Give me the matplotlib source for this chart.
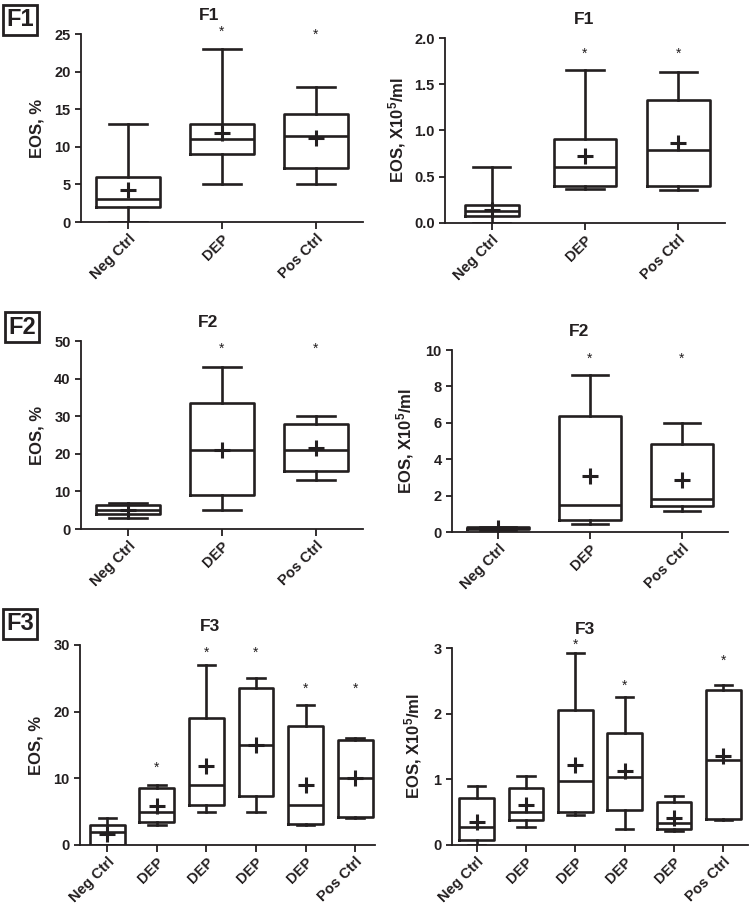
import matplotlib
matplotlib.use('Agg')
import matplotlib.pyplot as plt
import matplotlib.transforms as mtransforms

plt.rcParams['font.family'] = ['Liberation Sans', 'DejaVu Sans']
plt.rcParams['font.weight'] = 'bold'
plt.rcParams['mathtext.fontset'] = 'custom'
plt.rcParams['mathtext.rm'] = 'Liberation Sans:bold'
plt.rcParams['mathtext.bf'] = 'Liberation Sans:bold'
plt.rcParams['mathtext.it'] = 'Liberation Sans:bold'
plt.rcParams['mathtext.default'] = 'bf'

INK = '#231f20'

# ---------------- data ----------------
cats3 = ['Neg Ctrl', 'DEP', 'Pos Ctrl']
cats6 = ['Neg Ctrl', 'DEP', 'DEP', 'DEP', 'DEP', 'Pos Ctrl']

# F1, EOS %
f1p_low = [0, 5, 5]
f1p_q1 = [2, 9, 7.2]
f1p_med = [3, 11, 11.5]
f1p_q3 = [6, 13, 14.3]
f1p_high = [13, 23, 18]
f1p_mean = [4.3, 11.8, 11.2]
f1p_star = [None, 25.9, 25.5]

# F1, EOS x10^5/ml
f1c_low = [0.0, 0.37, 0.36]
f1c_q1 = [0.08, 0.40, 0.40]
f1c_med = [0.13, 0.60, 0.79]
f1c_q3 = [0.19, 0.91, 1.33]
f1c_high = [0.61, 1.65, 1.63]
f1c_mean = [0.14, 0.72, 0.87]
f1c_star = [None, 1.88, 1.88]

# F2, EOS %
f2p_low = [3, 5, 13]
f2p_q1 = [4, 9, 15.5]
f2p_med = [5, 21, 21]
f2p_q3 = [6.5, 33.5, 28]
f2p_high = [7, 43, 30]
f2p_mean = [5, 21, 21.5]
f2p_star = [None, 49.3, 49.3]

# F2, EOS x10^5/ml
f2c_low = [0.1, 0.45, 1.15]
f2c_q1 = [0.15, 0.65, 1.45]
f2c_med = [0.2, 1.5, 1.8]
f2c_q3 = [0.25, 6.4, 4.85]
f2c_high = [0.3, 8.6, 6.0]
f2c_mean = [0.2, 3.1, 2.85]
f2c_star = [None, 9.8, 9.8]

# F3, EOS %
f3p_low = [0, 3, 5, 5, 3, 4]
f3p_q1 = [0, 3.5, 6, 7.3, 3.2, 4.2]
f3p_med = [2, 5, 9, 15, 6, 10]
f3p_q3 = [3, 8.5, 19, 23.5, 17.8, 15.8]
f3p_high = [4, 9, 27, 25, 21, 16]
f3p_mean = [1.6, 5.8, 11.8, 15, 9, 10]
f3p_star = [None, 12.4, 29.6, 29.6, 24.2, 24.2]

# F3, EOS x10^5/ml
f3c_low = [0.0, 0.28, 0.45, 0.25, 0.21, 0.38]
f3c_q1 = [0.07, 0.38, 0.50, 0.53, 0.24, 0.39]
f3c_med = [0.27, 0.50, 0.98, 1.04, 0.33, 1.30]
f3c_q3 = [0.72, 0.87, 2.06, 1.71, 0.65, 2.36]
f3c_high = [0.90, 1.05, 2.92, 2.25, 0.75, 2.43]
f3c_mean = [0.35, 0.61, 1.22, 1.12, 0.41, 1.36]
f3c_star = [None, None, 3.12, 2.50, None, 2.88]

W, H = 749, 905
fig = plt.figure(figsize=(W / 100, H / 100), dpi=100)


def axes_px(x0, x1, ytop, ybot):
    return fig.add_axes([x0 / W, 1 - ybot / H, (x1 - x0) / W, (ybot - ytop) / H])


def panel(ax, cats, low, q1, med, q3, high, mean, star, ylim, yticks, yfmt,
          ylabel, title, xlim, width, capw, labelpad, title_x):
    stats = []
    for i in range(len(cats)):
        stats.append(dict(whislo=low[i], q1=q1[i], med=med[i], q3=q3[i],
                          whishi=high[i], mean=mean[i], fliers=[]))
    lw = 1.9
    ax.bxp(stats, positions=list(range(len(cats))), widths=width,
           capwidths=capw, showmeans=True, showfliers=False,
           boxprops=dict(color=INK, lw=lw),
           medianprops=dict(color=INK, lw=lw),
           whiskerprops=dict(color=INK, lw=lw),
           capprops=dict(color=INK, lw=lw),
           meanprops=dict(marker='+', markersize=11, markeredgewidth=2.2,
                          markeredgecolor=INK, color=INK))
    star_tr = mtransforms.offset_copy(ax.transData, fig=fig, x=0, y=-5,
                                      units='dots')
    for i, s in enumerate(star):
        if s is not None:
            ax.text(i, s, '*', ha='center', va='center', fontsize=10,
                    fontweight='normal', color=INK, transform=star_tr,
                    clip_on=False)
    ax.set_xlim(*xlim)
    ax.set_ylim(*ylim)
    ax.set_yticks(yticks)
    ax.set_yticklabels([yfmt.format(v) for v in yticks])
    ax.set_xticks(list(range(len(cats))))
    ax.set_xticklabels(cats, rotation=45, ha='right', va='top',
                       rotation_mode='anchor')
    for sp in ('top', 'right'):
        ax.spines[sp].set_visible(False)
    for sp in ('left', 'bottom'):
        ax.spines[sp].set_linewidth(1.3)
        ax.spines[sp].set_color(INK)
    ax.tick_params(axis='both', direction='out', length=4, width=1.3,
                   color=INK, labelsize=10.5, labelcolor=INK)
    ax.tick_params(axis='x', length=5, pad=2)
    ax.set_ylabel(ylabel, fontsize=12, fontweight='bold', color=INK,
                  labelpad=labelpad)
    ax.set_title(title, fontsize=12.5, fontweight='bold', color=INK, pad=10,
                 x=title_x)


ylab_pct = 'EOS, %'
ylab_cnt = r'EOS, X10$^{5}$/ml'

ax = axes_px(81, 363, 34, 222)
panel(ax, cats3, f1p_low, f1p_q1, f1p_med, f1p_q3, f1p_high, f1p_mean, f1p_star,
      (0, 25), [0, 5, 10, 15, 20, 25], '{:g}', ylab_pct, 'F1', (-0.5, 2.5),
      0.68, 0.4, 7, 0.455)

ax = axes_px(445, 725, 38, 223)
panel(ax, cats3, f1c_low, f1c_q1, f1c_med, f1c_q3, f1c_high, f1c_mean, f1c_star,
      (0, 2.0), [0, 0.5, 1.0, 1.5, 2.0], '{:.1f}', ylab_cnt, 'F1', (-0.5, 2.5),
      [0.58, 0.66, 0.68], 0.4, 4, 0.497)

ax = axes_px(81, 363, 341, 529)
panel(ax, cats3, f2p_low, f2p_q1, f2p_med, f2p_q3, f2p_high, f2p_mean, f2p_star,
      (0, 50), [0, 10, 20, 30, 40, 50], '{:g}', ylab_pct, 'F2', (-0.5, 2.5),
      0.68, 0.4, 7, 0.45)

ax = axes_px(452, 728, 350, 532)
panel(ax, cats3, f2c_low, f2c_q1, f2c_med, f2c_q3, f2c_high, f2c_mean, f2c_star,
      (0, 10), [0, 2, 4, 6, 8, 10], '{:g}', ylab_cnt, 'F2', (-0.5, 2.5),
      0.68, 0.4, 7, 0.46)

ax = axes_px(80, 375, 645, 845)
panel(ax, cats6, f3p_low, f3p_q1, f3p_med, f3p_q3, f3p_high, f3p_mean, f3p_star,
      (0, 30), [0, 10, 20, 30], '{:g}', ylab_pct, 'F3', (-0.55, 5.4),
      0.7, 0.35, 7, 0.44)

ax = axes_px(452, 748, 648, 845)
panel(ax, cats6, f3c_low, f3c_q1, f3c_med, f3c_q3, f3c_high, f3c_mean, f3c_star,
      (0, 3), [0, 1, 2, 3], '{:g}', ylab_cnt, 'F3', (-0.5, 5.5),
      0.7, 0.35, 7, 0.45)

# panel labels
for lab, cx, cy in (('F1', 20, 20), ('F2', 22, 327), ('F3', 20, 624)):
    fig.text(cx / W, 1 - cy / H, lab, ha='center', va='center', fontsize=17,
             fontweight='bold', color=INK,
             bbox=dict(boxstyle='square,pad=0.15', fc='white', ec=INK, lw=2))

fig.savefig('out.png', dpi=100)
